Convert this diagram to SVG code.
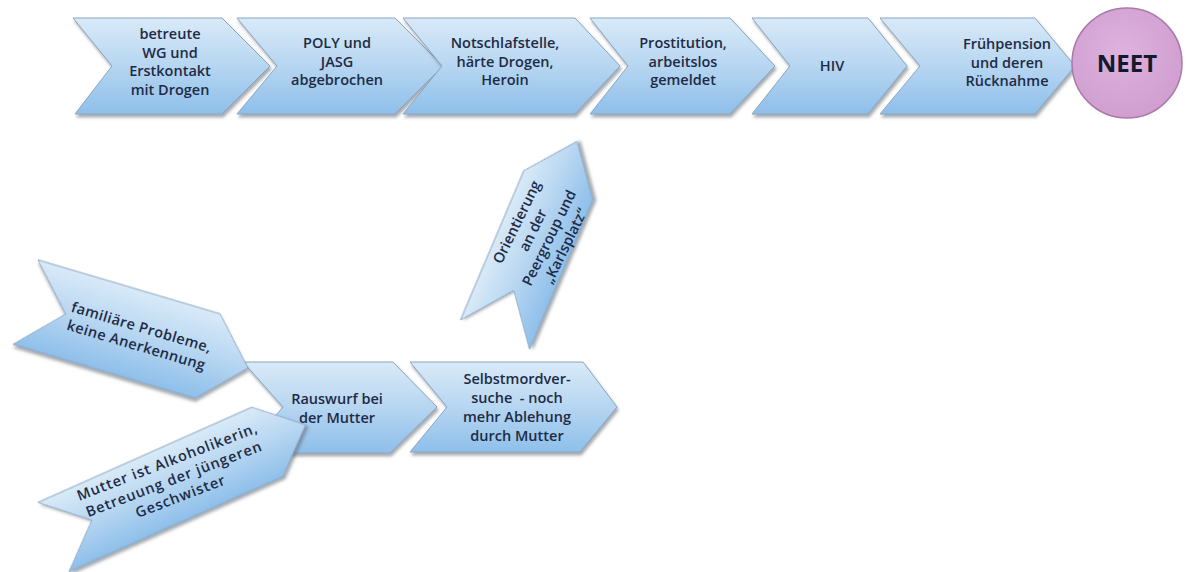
<svg xmlns="http://www.w3.org/2000/svg" width="1186" height="572" viewBox="0 0 1186 572">
  <defs>
    <linearGradient id="blue" x1="0" y1="0" x2="0" y2="1">
      <stop offset="0" stop-color="#d9eaf8"/>
      <stop offset="0.45" stop-color="#bad8f2"/>
      <stop offset="1" stop-color="#8ebfea"/>
    </linearGradient>
    <radialGradient id="mauve" cx="0.45" cy="0.4" r="0.65">
      <stop offset="0" stop-color="#deb2de"/>
      <stop offset="1" stop-color="#cf9dcf"/>
    </radialGradient>
    <filter id="shadow" x="-10%" y="-15%" width="125%" height="140%">
      <feDropShadow dx="1.5" dy="3" stdDeviation="1.6" flood-color="#5f6670" flood-opacity="0.55"/>
    </filter>
  </defs>
  <style>
    .chev { fill: url(#blue); stroke: #8aa5c0; stroke-width: 1; filter: url(#shadow); }
    .lbl { font-family: "Open Sans", "Liberation Sans", sans-serif; font-size: 14.5px; font-weight: 600; fill: #1e2b45; text-anchor: middle; }
    .wide { letter-spacing: 0.9px; }
    .neet { font-family: "Open Sans", "Liberation Sans", sans-serif; font-size: 24px; font-weight: bold; fill: #141a2e; text-anchor: middle; }
  </style>

  <rect width="1186" height="572" fill="#ffffff"/>

  <!-- process row -->
  <g id="step-wg">
    <polygon class="chev" points="73,18 222,18 270,66 222,114 75,114 112,66"/>
    <text class="lbl" x="170" y="39">betreute</text>
    <text class="lbl" x="170" y="57.5">WG und</text>
    <text class="lbl" x="170" y="76">Erstkontakt</text>
    <text class="lbl" x="170" y="94.5">mit Drogen</text>
  </g>
  <g id="step-poly">
    <polygon class="chev" points="237,18 395,18 443,66 395,114 237,114 277,66"/>
    <text class="lbl" x="337" y="48">POLY und</text>
    <text class="lbl" x="337" y="66.5">JASG</text>
    <text class="lbl" x="337" y="85">abgebrochen</text>
  </g>
  <g id="step-notschlaf">
    <polygon class="chev" points="403,18 575,18 620,66 575,114 403,114 442,66"/>
    <text class="lbl" x="505" y="48">Notschlafstelle,</text>
    <text class="lbl" x="505" y="66.5">härte Drogen,</text>
    <text class="lbl" x="505" y="85">Heroin</text>
  </g>
  <g id="step-prostitution">
    <polygon class="chev" points="590,18 730,18 775,66 730,114 590,114 628,66"/>
    <text class="lbl" x="683" y="48">Prostitution,</text>
    <text class="lbl" x="683" y="66.5">arbeitslos</text>
    <text class="lbl" x="683" y="85">gemeldet</text>
  </g>
  <g id="step-hiv">
    <polygon class="chev" points="752,18 868,18 907,66 868,114 752,114 790,66"/>
    <text class="lbl" x="832" y="71">HIV</text>
  </g>
  <g id="step-fruehpension">
    <polygon class="chev" points="880,18 1035,18 1075,66 1035,114 880,114 920,66"/>
    <text class="lbl" x="1007" y="49">Frühpension</text>
    <text class="lbl" x="1007" y="67.5">und deren</text>
    <text class="lbl" x="1007" y="86">Rücknahme</text>
  </g>
  <g id="neet">
    <circle cx="1127" cy="63" r="55" fill="url(#mauve)" stroke="#a97aa9" stroke-width="1.5"/>
    <text class="neet" x="1127" y="72">NEET</text>
  </g>

  <!-- lower branch -->
  <g id="step-rauswurf">
    <polygon class="chev" points="243,362 393,362 437,407 390,453 243,453 283,407"/>
    <text class="lbl" x="337" y="404">Rauswurf bei</text>
    <text class="lbl" x="337" y="423">der Mutter</text>
  </g>
  <g id="step-selbstmord">
    <polygon class="chev" points="410,362 583,362 617,407 580,452 410,452 447,407"/>
    <text class="lbl" x="517" y="384">Selbstmordver-</text>
    <text class="lbl" x="517" y="403" xml:space="preserve">suche  - noch</text>
    <text class="lbl" x="517" y="422">mehr Ablehung</text>
    <text class="lbl" x="517" y="441">durch Mutter</text>
  </g>
  <g id="cause-familie">
    <path class="chev" d="M0,0 L190,0 L232,44 L190,88 L0,88 L42,44 Z" transform="translate(136.7,335) rotate(16.5) translate(-116,-44)"/>
    <g transform="translate(139,336) rotate(16.5)">
      <text class="lbl" x="0" y="-4" letter-spacing="0.4">familiäre Probleme,</text>
      <text class="lbl" x="0" y="14.5" letter-spacing="0.4">keine Anerkennung</text>
    </g>
  </g>
  <g id="cause-mutter">
    <path class="chev" d="M0,0 L234,0 L276,38 L234,76 L0,76 L42,38 Z" transform="translate(179.5,481) rotate(-24) translate(-138,-38)"/>
    <g transform="translate(174,479) rotate(-21)">
      <text class="lbl wide" x="0" y="-13.5">Mutter ist Alkoholikerin,</text>
      <text class="lbl wide" x="0" y="5">Betreuung der jüngeren</text>
      <text class="lbl wide" x="0" y="23.5">Geschwister</text>
    </g>
  </g>
  <g id="step-orientierung">
    <path class="chev" d="M0,0 L162,0 L210,37.5 L162,75 L0,75 L48,37.5 Z" transform="translate(536,238) rotate(-67) translate(-105,-37.5)"/>
    <g transform="translate(541,234) rotate(-64)">
      <text class="lbl" x="0" y="-22">Orientierung</text>
      <text class="lbl" x="0" y="-4">an der</text>
      <text class="lbl" x="0" y="14">Peergroup und</text>
      <text class="lbl" x="0" y="32">„Karlsplatz“</text>
    </g>
  </g>

  <!-- no separate connectors: the chevrons themselves carry the flow -->
  <g id="connectors"/>
</svg>
